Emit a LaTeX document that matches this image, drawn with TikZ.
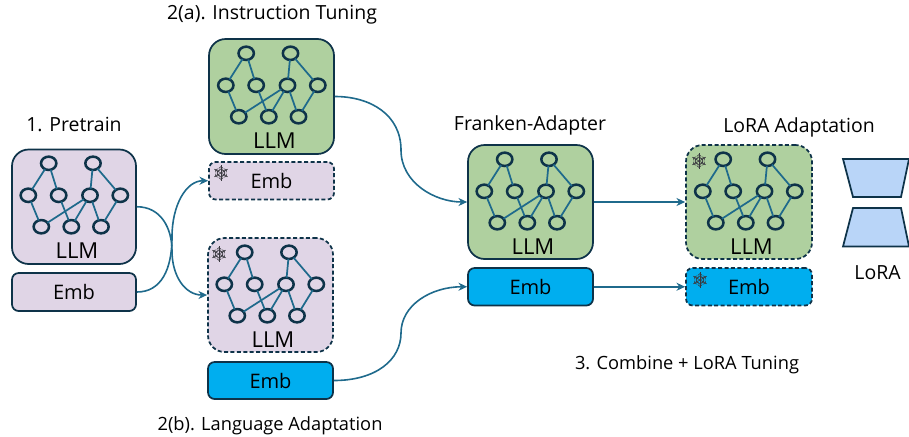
\documentclass[tikz,border=0pt]{standalone}
\usepackage{fontspec}
\setmainfont{Open Sans}
\usetikzlibrary{arrows.meta,shapes.geometric}
\definecolor{purplefill}{HTML}{E0D5E6}
\definecolor{greenfill}{HTML}{AFD09F}
\definecolor{bluefill}{HTML}{00AEEF}
\definecolor{trapfill}{HTML}{B9D5F8}
\definecolor{edgedark}{HTML}{0E3349}
\definecolor{linkblue}{HTML}{1F6A8C}
\definecolor{flake}{HTML}{3A3A40}
\tikzset{
  x=0.75pt,y=-0.75pt,
  boxbase/.style={draw=edgedark,line width=1.3pt,inner sep=0pt,font=\fontsize{15}{17}\selectfont,text=black},
  llmbox/.style={boxbase,rounded corners=12.5pt},
  embbox/.style={boxbase,rounded corners=5pt},
  frozen/.style={dash pattern=on 3pt off 1.8pt},
  neuron/.style={ellipse,draw=edgedark,line width=1.9pt,minimum width=11.5pt,minimum height=10pt,inner sep=0pt,fill=none},
  synapse/.style={draw=linkblue,line width=1.3pt,shorten >=-1pt,shorten <=-1pt},
  link/.style={draw=linkblue,line width=1.2pt,-{Stealth[length=6.5pt,width=6pt]}},
  title/.style={font=\fontsize{14.6}{16}\selectfont,text=black,inner sep=0pt,anchor=base},
  longtitle/.style={title,font=\fontsize{13.7}{16}\selectfont},
  llmtext/.style={font=\fontsize{16.5}{18}\selectfont,text=black,inner sep=0pt,anchor=base},
  trap/.style={draw=edgedark,line width=1.3pt,fill=trapfill,line join=miter},
  flakeline/.style={draw=flake,line width=0.45pt},
  pics/llmgraph/.style={code={
    \node[neuron] (t1) at (36.7,13.8) {};
    \node[neuron] (t2) at (81,13.8) {};
    \node[neuron] (m1) at (16.3,45.8) {};
    \node[neuron] (m2) at (46.7,45.8) {};
    \node[neuron] (m3) at (78,45.8) {};
    \node[neuron] (m4) at (108.3,45.8) {};
    \node[neuron] (b1) at (29.3,77.2) {};
    \node[neuron] (b2) at (59.3,77.2) {};
    \node[neuron] (b3) at (89,77.2) {};
    \node[llmtext] (lab) at (65,109) {LLM};
    \foreach \p/\q in {t1/m1,t1/m2,t2/m3,t2/m4,m1/b1,m2/b2,m3/b1,m3/b2,m3/b3,m4/b3}
      \draw[synapse] (\p) -- (\q);
  }},
  pics/snowflake/.style={code={
    \foreach \a in {0,60,...,300}{
      \begin{scope}[rotate=\a]
        \draw[flakeline] (0,0) -- (0,7.8);
        \draw[flakeline] (-2.2,2.4) -- (0,4.2) -- (2.2,2.4);
        \draw[flakeline] (-2.2,4.6) -- (0,6.4) -- (2.2,4.6);
      \end{scope}
    }
  }},
}
\newcommand{\placebox}[7]{%
  \node[#6,minimum width={(#4-#2)*0.75pt},minimum height={(#5-#3)*0.75pt}] (#1) at ({(#2+#4)/2},{(#3+#5)/2}) {#7};}
\begin{document}
\begin{tikzpicture}
\useasboundingbox (0,0) rectangle (909,436);
% boxes
\placebox{preL}{12}{149.5}{136}{264}{llmbox,fill=purplefill}{}
\placebox{preE}{12}{273}{136}{311}{embbox,fill=purplefill}{Emb}
\placebox{insL}{209}{39}{334}{154}{llmbox,fill=greenfill}{}
\placebox{insE}{209}{162}{334}{199.5}{embbox,fill=purplefill,frozen}{Emb}
\placebox{lanL}{208}{238}{333}{352}{llmbox,fill=purplefill,frozen}{}
\placebox{lanE}{208}{362}{333}{399}{embbox,fill=bluefill}{Emb}
\placebox{fraL}{468}{145}{593}{259}{llmbox,fill=greenfill}{}
\placebox{fraE}{468}{268}{593}{305.5}{embbox,fill=bluefill}{Emb}
\placebox{lorL}{686}{145}{812}{259}{llmbox,fill=greenfill,frozen}{}
\placebox{lorE}{686}{268}{812}{305.5}{embbox,fill=bluefill,frozen}{Emb}
% graphs
\pic (g1) at (12,149.5) {llmgraph};
\pic (g2) at (209.5,39.5) {llmgraph};
\pic (g3) at (208,238.5) {llmgraph};
\pic (g4) at (468,145.5) {llmgraph};
\pic (g5) at (686.5,145.5) {llmgraph};
% snowflakes
\pic at (221,173) {snowflake};
\pic at (219,254) {snowflake};
\pic at (699,161) {snowflake};
\pic at (700,280) {snowflake};
% trapezoids
\draw[trap] (843,159) -- (909,159) -- (901,197) -- (853,197) -- cycle;
\draw[trap] (853,208) -- (901,208) -- (909,246.5) -- (843,246.5) -- cycle;
% connectors
\draw[link] (preL.east) .. controls +(24,0) and (172,228) .. (172,251) .. controls (172,276) and +(-22,0) .. (lanL.west);
\draw[link] (preE.east) .. controls +(24,0) and (172,270) .. (172,237) .. controls (172,205) and +(-22,0) .. (insE.west);
\draw[link] (insL.east) .. controls +(36,0) and (401,115) .. (401,150) .. controls (401,183) and +(-32,0) .. (fraL.west);
\draw[link] (lanE.east) .. controls +(42,0) and (401,360) .. (401,333) .. controls (401,305) and +(-36,0) .. (fraE.west);
\draw[link] (fraL.east) -- (lorL.west);
\draw[link] (fraE.east) -- (lorE.west);
% titles
\node[title] (t1) at (74,131) {1. Pretrain};
\node[title] (t2) at (272,19) {2(a). Instruction Tuning};
\node[title] (t3) at (530,130) {Franken-Adapter};
\node[title] (t4) at (799,132) {LoRA Adaptation};
\node[longtitle] (t5) at (687,369) {3. Combine + LoRA Tuning};
\node[longtitle] (t6) at (270,430) {2(b). Language Adaptation};
\node[title] (t7) at (877.5,279) {LoRA};
\end{tikzpicture}
\end{document}
